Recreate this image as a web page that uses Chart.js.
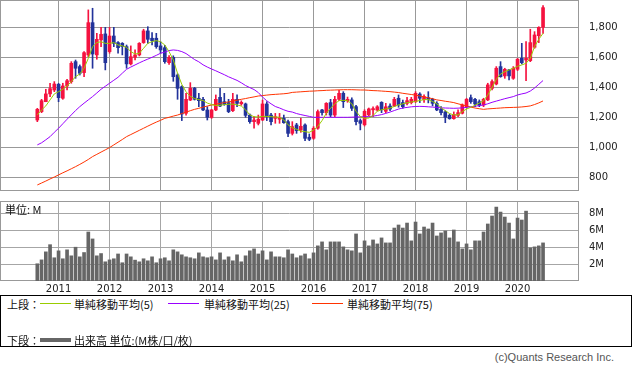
<!DOCTYPE html>
<html><head><meta charset="utf-8">
<script src="https://cdn.jsdelivr.net/npm/chart.js@4.4.1/dist/chart.umd.min.js"></script>
<style>
html,body{margin:0;padding:0;background:#fff;}
#wrap{position:relative;width:633px;height:372px;overflow:hidden;background:#fff;}
canvas{position:absolute;left:0;}
.t{position:absolute;font-family:"Noto Sans CJK JP",sans-serif;font-size:11px;line-height:14px;color:#111;white-space:nowrap;}
.ln{position:absolute;height:1px;width:31px;}
</style></head><body>
<div id="wrap">
<canvas id="priceChart" width="633" height="192" style="top:0"></canvas>
<canvas id="volChart" width="633" height="100" style="top:195px"></canvas>
<div class="t" style="left:5px;top:202px;">単位: M</div>
<div style="position:absolute;left:0;top:295px;width:632px;height:52px;box-sizing:border-box;border:1px solid #000;"></div>
<div class="t" style="left:7px;top:297px;">上段：</div>
<div class="ln" style="left:40px;top:303px;background:#99cc00;"></div>
<div class="t" style="left:74px;top:297px;">単純移動平均(5)</div>
<div class="ln" style="left:168px;top:303px;background:#9900ff;"></div>
<div class="t" style="left:204px;top:297px;">単純移動平均(25)</div>
<div class="ln" style="left:312px;top:303px;background:#ff3300;"></div>
<div class="t" style="left:347px;top:297px;">単純移動平均(75)</div>
<div class="t" style="left:7px;top:333px;">下段：</div>
<div class="ln" style="left:40px;top:338px;height:4px;background:#666;"></div>
<div class="t" style="left:74px;top:333px;">出来高 単位:(M株/口/枚)</div>
<div class="t" style="right:19px;top:350px;color:#555;font-family:'Liberation Sans',sans-serif;font-size:11px;">(c)Quants Research Inc.</div>
</div>
<script>
// ---- data (monthly, Aug 2010 - Jul 2020) ----
const startYear = 2010, startMonth = 8;
const yearLabels = ['2011','2012','2013','2014','2015','2016','2017','2018','2019','2020'];
const priceTicks = [800, 1000, 1200, 1400, 1600, 1800];
const volumeTicks = [2, 4, 6, 8];

const open = [
1182,1238,1304,1356,1382,1420,1327,1409,1438,1571,
1538,1498,1616,1831,1616,1716,1756,1638,1742,1698,
1693,1671,1556,1600,1616,1698,1776,1727,1727,1676,
1664,1564,1600,1482,1404,1227,1315,1393,1327,1320,
1249,1200,1249,1333,1304,1298,1244,1320,1290,1289,
1215,1171,1160,1182,1289,1215,1193,1187,1193,1171,
1093,1149,1115,1149,1067,1060,1127,1249,1231,1298,
1215,1320,1360,1310,1316,1271,1178,1150,1216,1250,
1248,1300,1240,1275,1275,1327,1298,1293,1298,1304,
1355,1318,1331,1320,1293,1253,1236,1213,1191,1213,
1227,1271,1331,1320,1304,1282,1316,1393,1422,1538,
1476,1516,1460,1520,1593,1582,1578,1667,1744,1800];
const high = [
1260,1320,1387,1427,1438,1427,1427,1453,1571,1582,
1549,1638,1916,1927,1760,1800,1800,1800,1800,1704,
1698,1682,1676,1649,1698,1787,1804,1764,1760,1704,
1680,1612,1610,1490,1410,1360,1431,1400,1360,1333,
1271,1253,1349,1393,1360,1320,1360,1349,1310,1295,
1222,1204,1215,1315,1304,1226,1226,1226,1215,1182,
1171,1160,1193,1156,1089,1138,1249,1253,1298,1320,
1340,1380,1371,1335,1330,1280,1189,1250,1262,1270,
1278,1304,1293,1290,1333,1349,1315,1333,1333,1371,
1364,1350,1371,1327,1304,1271,1244,1222,1236,1249,
1289,1327,1349,1327,1316,1327,1427,1449,1538,1571,
1527,1520,1538,1593,1693,1704,1787,1771,1804,1944];
const low = [
1171,1231,1304,1338,1371,1304,1320,1382,1427,1460,
1482,1471,1604,1527,1587,1671,1516,1627,1671,1627,
1616,1527,1549,1582,1609,1693,1693,1682,1660,1627,
1560,1553,1440,1320,1178,1215,1311,1315,1271,1244,
1182,1193,1244,1271,1280,1231,1238,1271,1280,1200,
1160,1127,1149,1178,1178,1149,1160,1160,1160,1071,
1082,1093,1100,1044,1044,1053,1120,1215,1215,1204,
1204,1311,1265,1300,1245,1149,1116,1142,1209,1204,
1242,1231,1231,1245,1271,1267,1260,1282,1289,1298,
1298,1300,1296,1276,1244,1216,1164,1187,1187,1204,
1222,1262,1293,1271,1271,1271,1311,1382,1416,1467,
1460,1449,1453,1511,1556,1444,1571,1660,1698,1760];
const close = [
1253,1311,1356,1391,1422,1331,1409,1444,1560,1527,
1493,1631,1831,1622,1720,1753,1564,1742,1693,1664,
1671,1556,1604,1616,1693,1776,1720,1711,1671,1649,
1571,1600,1471,1393,1222,1320,1393,1320,1311,1249,
1200,1249,1320,1275,1285,1238,1320,1293,1300,1213,
1171,1182,1187,1289,1204,1171,1204,1193,1164,1093,
1138,1111,1140,1060,1053,1127,1238,1231,1293,1215,
1320,1360,1304,1320,1260,1171,1160,1240,1256,1258,
1270,1250,1270,1255,1320,1282,1271,1311,1320,1360,
1327,1338,1320,1293,1249,1231,1200,1191,1220,1231,
1282,1320,1304,1289,1282,1320,1416,1438,1527,1471,
1520,1476,1527,1587,1564,1593,1698,1749,1800,1931];
const ma5 = [
1216,1249,1276,1316,1356,1371,1387,1409,1438,1471,
1489,1527,1593,1671,1698,1704,1693,1693,1698,1682,
1676,1667,1638,1622,1627,1660,1693,1704,1711,1704,
1682,1638,1582,1493,1420,1370,1340,1325,1318,1312,
1295,1285,1278,1280,1285,1287,1288,1283,1275,1250,
1216,1204,1202,1206,1206,1204,1202,1200,1182,1150,
1130,1120,1108,1104,1100,1115,1140,1178,1227,1260,
1290,1311,1313,1311,1290,1240,1205,1193,1195,1212,
1240,1250,1255,1262,1272,1283,1290,1297,1302,1306,
1312,1318,1318,1305,1290,1265,1244,1225,1216,1216,
1238,1255,1267,1280,1295,1311,1349,1400,1453,1489,
1504,1516,1527,1540,1549,1560,1593,1671,1720,1760];
const ma25 = [
1016,1030,1050,1071,1100,1127,1157,1187,1216,1245,
1271,1294,1316,1338,1362,1387,1407,1427,1447,1467,
1494,1520,1535,1549,1563,1576,1588,1600,1613,1627,
1635,1645,1649,1646,1638,1625,1605,1585,1570,1550,
1535,1522,1510,1497,1484,1470,1458,1446,1430,1412,
1398,1385,1365,1335,1310,1290,1272,1262,1250,1240,
1235,1225,1218,1212,1206,1200,1200,1200,1200,1200,
1200,1200,1200,1200,1201,1202,1203,1204,1205,1208,
1212,1218,1226,1235,1245,1255,1262,1266,1270,1272,
1273,1272,1270,1268,1266,1263,1262,1261,1260,1261,
1263,1266,1270,1274,1278,1282,1290,1300,1308,1316,
1324,1331,1338,1349,1356,1362,1375,1395,1420,1445];
const ma75 = [
749,762,775,789,802,816,830,843,857,871,
886,902,919,938,953,968,983,998,1016,1034,
1052,1071,1085,1099,1113,1127,1141,1155,1168,1180,
1193,1200,1208,1215,1225,1234,1244,1253,1260,1268,
1275,1282,1287,1293,1298,1303,1309,1314,1320,1325,
1331,1336,1342,1345,1348,1351,1353,1355,1357,1360,
1366,1368,1370,1372,1374,1375,1377,1378,1380,1381,
1382,1383,1384,1384,1384,1383,1382,1382,1380,1378,
1377,1375,1373,1371,1368,1365,1360,1356,1352,1348,
1342,1337,1330,1324,1316,1312,1307,1303,1298,1290,
1283,1276,1268,1262,1257,1253,1256,1258,1260,1262,
1264,1265,1266,1267,1269,1272,1276,1285,1296,1309];
const volume = [
2.04,2.5,3.45,4.3,2.75,3.57,2.63,3.69,2.98,4.0,2.86,3.37,
5.8,4.98,2.98,3.25,2.27,2.5,2.63,3.2,2.16,3.2,2.86,2.47,
2.27,2.63,2.39,2.86,2.16,2.63,2.75,2.39,3.69,3.45,3.1,2.86,
2.75,2.63,3.33,2.86,2.75,2.86,2.5,3.33,2.5,2.86,2.39,3.1,
2.27,2.98,3.57,3.8,3.2,3.57,2.5,3.45,2.86,2.86,2.75,3.69,
3.2,2.75,2.98,3.2,2.63,3.33,4.16,4.63,3.69,4.63,4.63,4.63,
4.04,3.69,3.57,5.57,3.33,4.75,4.16,4.86,4.39,5.1,4.51,4.51,
6.27,6.63,6.27,6.86,4.75,6.98,5.57,6.39,6.16,6.86,5.33,5.69,
5.92,5.1,6.04,4.63,3.8,4.39,3.69,4.75,4.75,5.8,6.75,7.69,
8.75,8.16,7.57,6.86,4.98,7.45,7.22,8.27,3.92,4.04,4.16,4.51];

// ---- derived structures ----
const months = open.map((_, i) => {
  const m = startMonth - 1 + i;
  return { year: startYear + Math.floor(m / 12), month: (m % 12) + 1 };
});
const yearPos = months.map((d, i) => d.month === 1 ? i : -1).filter(i => i >= 0);
const candleColors = open.map((o, i) => close[i] >= o ? '#f5123f' : '#22339b');
const xMin = -8.78, xMax = 127.46;

const boxPlugin = {
  id: 'box',
  beforeDatasetsDraw(chart, args, opts) {
    const { ctx, chartArea: a } = chart;
    ctx.save();
    ctx.strokeStyle = opts.color || '#999';
    ctx.lineWidth = 1;
    ctx.strokeRect(Math.round(a.left) + 0.5, Math.round(a.top) + 0.5,
      Math.round(a.right - a.left) - 1, Math.round(a.bottom - a.top) - 1);
    ctx.restore();
  }
};

const noPad = s => { s.paddingTop = 0; s.paddingBottom = 0; s.paddingLeft = 0; s.paddingRight = 0; };
const xTicksFn = s => { s.ticks = yearPos.map(v => ({ value: v })); };

new Chart(document.getElementById('priceChart'), {
  type: 'bar',
  data: {
    datasets: [
      { type: 'line', label: 'MA5', data: ma5.map((v, i) => ({ x: i, y: v })), borderColor: '#99cc00', borderWidth: 1, pointRadius: 0, tension: 0, order: 0 },
      { type: 'line', label: 'MA25', data: ma25.map((v, i) => ({ x: i, y: v })), borderColor: '#9900ff', borderWidth: 1, pointRadius: 0, tension: 0, order: 0 },
      { type: 'line', label: 'MA75', data: ma75.map((v, i) => ({ x: i, y: v })), borderColor: '#ff3300', borderWidth: 1, pointRadius: 0, tension: 0, order: 0 },
      { type: 'bar', label: 'body', data: open.map((o, i) => ({ x: i, y: [o, close[i]] })), backgroundColor: candleColors, barThickness: 3, grouped: false, minBarLength: 1, order: 1 },
      { type: 'bar', label: 'wick', data: open.map((o, i) => ({ x: i, y: [low[i], high[i]] })), backgroundColor: candleColors, barThickness: 1, grouped: false, order: 2 }
    ]
  },
  options: {
    responsive: false, animation: false, devicePixelRatio: 1,
    layout: { autoPadding: false, padding: { left: 0, right: 0, top: 0, bottom: 1 } },
    plugins: { legend: { display: false }, tooltip: { enabled: false }, box: { color: '#999' } },
    scales: {
      x: {
        type: 'linear', min: xMin, max: xMax, offset: false,
        grid: { color: '#999', drawTicks: false, offset: false },
        border: { display: false },
        ticks: { display: false },
        afterBuildTicks: xTicksFn,
        afterFit: s => { s.height = 0; noPad(s); }
      },
      y: {
        position: 'right', min: 708.7, max: 1982,
        grid: { color: '#999', drawTicks: false },
        border: { display: false },
        ticks: { padding: 10, color: '#222', font: { family: 'DejaVu Sans', size: 10 }, callback: v => v.toLocaleString('en-US') },
        afterBuildTicks: s => { s.ticks = priceTicks.map(v => ({ value: v })); },
        afterFit: s => { s.width = 54; noPad(s); }
      }
    }
  },
  plugins: [boxPlugin]
});

new Chart(document.getElementById('volChart'), {
  type: 'bar',
  data: {
    datasets: [
      { label: '出来高', data: volume.map((v, i) => ({ x: i, y: v })), backgroundColor: '#666666', barThickness: 3, grouped: false }
    ]
  },
  options: {
    responsive: false, animation: false, devicePixelRatio: 1,
    layout: { autoPadding: false, padding: { left: 0, right: 0, top: 6, bottom: 0 } },
    plugins: { legend: { display: false }, tooltip: { enabled: false }, box: { color: '#999' } },
    scales: {
      x: {
        type: 'linear', min: xMin, max: xMax, offset: false,
        grid: { color: '#a6a6a6', drawTicks: false, offset: false },
        border: { display: false },
        ticks: { padding: 2, color: '#222', autoSkip: false, maxRotation: 0, font: { family: 'DejaVu Sans', size: 10 },
          callback: v => { const k = yearPos.indexOf(v); return k >= 0 ? yearLabels[k] : ''; } },
        afterBuildTicks: xTicksFn,
        afterFit: s => { s.height = 14; noPad(s); }
      },
      y: {
        position: 'right', min: 0, max: 9.47,
        grid: { color: '#a6a6a6', drawTicks: false },
        border: { display: false },
        ticks: { padding: 10, color: '#222', font: { family: 'DejaVu Sans', size: 10 }, callback: v => v + 'M' },
        afterBuildTicks: s => { s.ticks = volumeTicks.map(v => ({ value: v })); },
        afterFit: s => { s.width = 54; noPad(s); }
      }
    }
  },
  plugins: [boxPlugin]
});
</script>
</body></html>
